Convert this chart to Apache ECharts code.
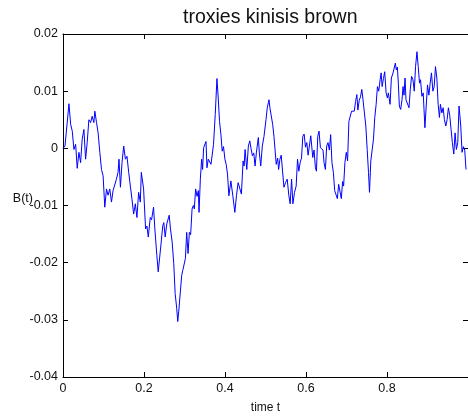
<!DOCTYPE html>
<html>
<head>
<meta charset="utf-8">
<script src="https://cdn.jsdelivr.net/npm/echarts@6/dist/echarts.min.js"></script>
<style>
  html, body { margin: 0; padding: 0; background: #fff; }
  #chart { width: 468px; height: 419px; }
</style>
</head>
<body>
<div id="chart"></div>
<script>
// Sampled Brownian path B(t) on [0, 1]
const times = [
  0.0000, 0.0049, 0.0147, 0.0189, 0.0229, 0.0270, 0.0312, 0.0351, 0.0393, 0.0435,
  0.0474, 0.0516, 0.0558, 0.0597, 0.0639, 0.0681, 0.0720, 0.0762, 0.0786, 0.0828,
  0.0867, 0.0909, 0.0951, 0.0990, 0.1032, 0.1074, 0.1113, 0.1155, 0.1197, 0.1236,
  0.1278, 0.1319, 0.1359, 0.1383, 0.1418, 0.1457, 0.1499, 0.1541, 0.1580, 0.1622,
  0.1663, 0.1703, 0.1744, 0.1786, 0.1826, 0.1867, 0.1909,
  0.1934, 0.1990, 0.2039, 0.2072, 0.2106, 0.2155, 0.2187, 0.2236, 0.2268, 0.2317,
  0.2351, 0.2383, 0.2425, 0.2464, 0.2489, 0.2523, 0.2563, 0.2597, 0.2622, 0.2654,
  0.2695, 0.2735, 0.2769, 0.2808, 0.2833, 0.2857, 0.2891, 0.2931, 0.2956, 0.2990,
  0.3022, 0.3054, 0.3088, 0.3120, 0.3152, 0.3187, 0.3219, 0.3243, 0.3275, 0.3310,
  0.3342, 0.3359, 0.3391, 0.3423, 0.3447, 0.3472, 0.3496, 0.3531, 0.3555, 0.3587,
  0.3619, 0.3654, 0.3686, 0.3717, 0.3759, 0.3801, 0.3833, 0.3865, 0.3899, 0.3931,
  0.3963, 0.3998, 0.4029, 0.4062,
  0.4096, 0.4145, 0.4194, 0.4243, 0.4283, 0.4324, 0.4366, 0.4405, 0.4447, 0.4472,
  0.4496, 0.4538, 0.4577, 0.4612, 0.4644, 0.4676, 0.4710, 0.4742, 0.4774, 0.4823,
  0.4848, 0.4882, 0.4921, 0.4963, 0.4988, 0.5012, 0.5044, 0.5086, 0.5111, 0.5143,
  0.5177, 0.5209, 0.5241, 0.5265, 0.5300, 0.5324, 0.5356, 0.5388, 0.5423, 0.5455,
  0.5496, 0.5536, 0.5577, 0.5609, 0.5644, 0.5676, 0.5717, 0.5757, 0.5791, 0.5823,
  0.5855, 0.5889, 0.5921, 0.5953, 0.5988, 0.6020, 0.6052, 0.6086, 0.6118,
  0.6167, 0.6199, 0.6233, 0.6258, 0.6290, 0.6322, 0.6356, 0.6388, 0.6420, 0.6445,
  0.6479, 0.6511, 0.6543, 0.6577, 0.6609, 0.6641, 0.6676, 0.6708, 0.6740, 0.6774,
  0.6806, 0.6848, 0.6872, 0.6904, 0.6929, 0.6961, 0.6995, 0.7027, 0.7059, 0.7093,
  0.7125, 0.7157, 0.7192, 0.7224, 0.7256, 0.7281, 0.7314, 0.7346, 0.7378, 0.7403,
  0.7437, 0.7477, 0.7511, 0.7543, 0.7568, 0.7600, 0.7634, 0.7666, 0.7698, 0.7732,
  0.7764, 0.7796, 0.7830, 0.7855, 0.7880, 0.7912, 0.7944, 0.7978, 0.8010,
  0.8034, 0.8076, 0.8108, 0.8150, 0.8182, 0.8206, 0.8231, 0.8256, 0.8280, 0.8305,
  0.8337, 0.8371, 0.8396, 0.8420, 0.8445, 0.8469, 0.8501, 0.8543, 0.8575, 0.8607,
  0.8641, 0.8673, 0.8705, 0.8740, 0.8771, 0.8803, 0.8828, 0.8862, 0.8894, 0.8936,
  0.8968, 0.9000, 0.9034, 0.9066, 0.9098, 0.9133, 0.9165, 0.9197, 0.9231, 0.9263,
  0.9295, 0.9319, 0.9354, 0.9386, 0.9418, 0.9452, 0.9484, 0.9516, 0.9550, 0.9582,
  0.9614, 0.9649, 0.9681, 0.9713, 0.9747, 0.9779, 0.9821, 0.9853, 0.9885, 0.9919,
  0.9951
];

const values = [
  0.0000, 0.0004, 0.0078, 0.0042, 0.0030, -0.0002, 0.0007, -0.0035, -0.0007, -0.0025,
  0.0016, 0.0033, -0.0019, 0.0010, 0.0050, 0.0045, 0.0056, 0.0045, 0.0065, 0.0045,
  0.0027, -0.0007, -0.0037, -0.0048, -0.0103, -0.0071, -0.0082, -0.0071, -0.0094, -0.0074,
  -0.0071, -0.0054, -0.0042, -0.0019, -0.0068, -0.0025, 0.0004, -0.0019, -0.0014, -0.0042,
  -0.0066, -0.0089, -0.0115, -0.0097, -0.0121, -0.0077, -0.0094,
  -0.0042, -0.0071, -0.0141, -0.0136, -0.0155, -0.0121, -0.0125, -0.0103, -0.0141, -0.0187,
  -0.0216, -0.0213, -0.0164, -0.0135, -0.0130, -0.0155, -0.0132, -0.0135, -0.0117, -0.0141,
  -0.0164, -0.0202, -0.0254, -0.0280, -0.0303, -0.0286, -0.0288, -0.0222, -0.0214, -0.0216,
  -0.0193, -0.0147, -0.0184, -0.0147, -0.0151, -0.0106, -0.0100, -0.0106, -0.0071, -0.0084,
  -0.0074, -0.0112, -0.0054, -0.0019, -0.0037, 0.0001, 0.0004, 0.0012, -0.0034, -0.0019,
  -0.0019, -0.0028, -0.0025, 0.0007, 0.0059, 0.0122, 0.0088, 0.0047, 0.0024, -0.0005,
  0.0003, -0.0019, -0.0028, -0.0045,
  -0.0083, -0.0057, -0.0083, -0.0112, -0.0083, -0.0060, -0.0061, -0.0080, -0.0022, -0.0031,
  -0.0002, -0.0037, 0.0004, 0.0013, -0.0001, -0.0013, -0.0008, -0.0031, -0.0008, 0.0019,
  -0.0008, -0.0031, 0.0004, 0.0021, 0.0019, 0.0050, 0.0071, 0.0085, 0.0070, 0.0071,
  0.0042, 0.0021, 0.0023, -0.0028, -0.0017, -0.0037, -0.0019, -0.0012, -0.0014, -0.0068,
  -0.0060, -0.0054, -0.0083, -0.0097, -0.0054, -0.0097, -0.0077, -0.0066, -0.0019, -0.0040,
  -0.0025, -0.0017, 0.0021, 0.0025, 0.0002, 0.0010, -0.0012, -0.0014, 0.0022,
  -0.0016, -0.0003, -0.0034, -0.0040, 0.0021, 0.0030, 0.0001, 0.0004, -0.0003, -0.0025,
  -0.0037, 0.0004, 0.0010, -0.0003, 0.0024, -0.0025, -0.0042, -0.0074, -0.0071, -0.0088,
  -0.0063, -0.0060, -0.0088, -0.0058, -0.0066, -0.0025, -0.0007, -0.0022, 0.0047, 0.0044,
  0.0065, 0.0067, 0.0065, 0.0082, 0.0094, 0.0067, 0.0084, 0.0090, 0.0103, 0.0088,
  0.0085, 0.0039, -0.0002, -0.0042, -0.0077, -0.0022, -0.0025, 0.0016, 0.0054, 0.0077,
  0.0108, 0.0100, 0.0120, 0.0132, 0.0108, 0.0122, 0.0134, 0.0097, 0.0088,
  0.0097, 0.0077, 0.0123, 0.0132, 0.0134, 0.0149, 0.0137, 0.0142, 0.0114, 0.0074,
  0.0068, 0.0085, 0.0108, 0.0093, 0.0123, 0.0085, 0.0083, 0.0071, 0.0103, 0.0126,
  0.0120, 0.0100, 0.0143, 0.0169, 0.0143, 0.0114, 0.0120, 0.0091, 0.0097, 0.0036,
  0.0074, 0.0111, 0.0093, 0.0114, 0.0132, 0.0100, 0.0108, 0.0143, 0.0123, 0.0077,
  0.0054, 0.0077, 0.0062, 0.0071, 0.0050, 0.0039, 0.0050, 0.0071, 0.0057, 0.0033,
  0.0010, -0.0010, 0.0027, -0.0002, 0.0010, 0.0074, 0.0039, -0.0007, 0.0003, -0.0003,
  -0.0037
];

const chartTitle = 'troxies kinisis brown';
const xName = 'time t';
const yName = 'B(t)';

const FONT = 'Liberation Sans, Arial, Helvetica, sans-serif';
const INK = '#111';

function fmtY(v) {
  if (Math.abs(v) < 1e-9) return '0';
  return v.toFixed(2);
}
function fmtX(v) {
  if (Math.abs(v) < 1e-9) return '0';
  return v.toFixed(1);
}

// box-style frame: every axis line sits on the grid edge, ticks point inward
const axisLine = { show: true, onZero: false, lineStyle: { color: '#000', width: 1 } };
const tickIn = { show: true, inside: true, length: 5, lineStyle: { color: '#000', width: 1 } };

const chart = echarts.init(document.getElementById('chart'), null, { renderer: 'canvas' });
chart.setOption({
  animation: false,
  backgroundColor: '#fff',
  title: {
    text: chartTitle,
    left: 178,
    top: 3,
    textStyle: { fontFamily: FONT, fontSize: 19.5, fontWeight: 'normal', color: INK }
  },
  grid: { left: 63, top: 34, width: 407, height: 345, containLabel: false },
  xAxis: [
    {
      type: 'value', position: 'bottom', min: 0, max: 1, interval: 0.2,
      axisLine, axisTick: tickIn, splitLine: { show: false },
      axisLabel: {
        margin: 5, fontFamily: FONT, fontSize: 12.5, color: INK,
        showMaxLabel: false, formatter: fmtX
      },
      name: xName, nameLocation: 'middle', nameGap: 25,
      nameTextStyle: { fontFamily: FONT, fontSize: 12, color: INK }
    },
    {
      type: 'value', position: 'top', min: 0, max: 1, interval: 0.2,
      axisLine, axisTick: tickIn, splitLine: { show: false },
      axisLabel: { show: false }
    }
  ],
  yAxis: [
    {
      type: 'value', position: 'left', min: -0.04, max: 0.02, interval: 0.01,
      axisLine, axisTick: tickIn, splitLine: { show: false },
      axisLabel: { margin: 5, fontFamily: FONT, fontSize: 12.5, color: INK, formatter: fmtY },
      name: yName, nameLocation: 'middle', nameRotate: 0, nameGap: 30,
      nameMoveOverlap: false,
      nameTextStyle: { fontFamily: FONT, fontSize: 12.5, color: INK, verticalAlign: 'bottom' }
    },
    {
      type: 'value', position: 'right', min: -0.04, max: 0.02, interval: 0.01,
      axisLine, axisTick: tickIn, splitLine: { show: false },
      axisLabel: { show: false }
    }
  ],
  series: [
    {
      type: 'line',
      xAxisIndex: 0,
      yAxisIndex: 0,
      data: times.map((t, i) => [t, values[i]]),
      showSymbol: false,
      symbol: 'none',
      lineStyle: { color: '#0000ff', width: 1 },
      clip: true
    }
  ]
});
</script>
</body>
</html>
